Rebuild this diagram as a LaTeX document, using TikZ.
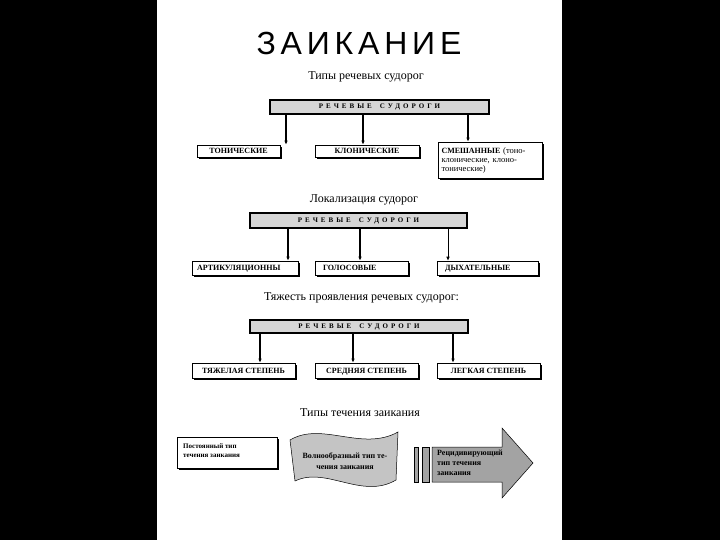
\documentclass[tikz,border=0pt]{standalone}
\usepackage{fontspec}
\setmainfont{Liberation Serif}
\newfontfamily\titlefont{Liberation Sans}[LetterSpace=15]
\newfontfamily\hdrfont{Liberation Serif}[LetterSpace=43]
\usetikzlibrary{positioning, arrows.meta, shadows}

\definecolor{hdrgray}{HTML}{D6D6D6}
\definecolor{wavegray}{HTML}{C4C4C4}
\definecolor{arrowgray}{HTML}{A3A3A3}

\begin{document}
\begin{tikzpicture}[
    x=1pt, y=-1pt,
    heading/.style={
        font=\fontsize{12}{14}\selectfont
    },
    hdr/.style={
        draw,
        line width=1.4pt,
        fill=hdrgray,
        inner sep=0pt,
        font=\hdrfont\bfseries\fontsize{7}{8}\selectfont
    },
    boxshadow/.style={
        drop shadow={shadow xshift=1.6pt, shadow yshift=-1.6pt, fill=black, opacity=1}
    },
    kind/.style={
        draw,
        fill=white,
        line width=0.6pt,
        inner sep=2pt,
        text height=5.8pt,
        text depth=0.6pt,
        boxshadow,
        font=\bfseries\fontsize{8}{9}\selectfont
    },
    leftkind/.style={
        kind,
        align=left,
        inner xsep=8pt,
        text width=#1
    },
    link/.style={-{Latex[length=4pt, width=3.5pt]}, line width=1.2pt},
    thinlink/.style={-{Latex[length=4pt, width=3.5pt]}, line width=0.6pt},
    flowtext/.style={
        align=left,
        inner sep=0pt,
        font=\bfseries\fontsize{7}{9}\selectfont
    }
]

% page
\useasboundingbox (0,0) rectangle (720,540);
\fill[black] (0,0) rectangle (720,540);
\fill[white] (157,0) rectangle (562,540);

\node[font=\titlefont\fontsize{32}{36}\selectfont] (title) at (359,43) {ЗАИКАНИЕ};

% types of speech convulsions
\node[heading] (t1) at (366,77) {Типы речевых судорог};
\node[hdr, minimum width=219pt, minimum height=14pt] (h1) at (379.5,107) {РЕЧЕВЫЕ\hspace{8pt}СУДОРОГИ};
\node[kind, minimum width=83pt, minimum height=12pt] (c11) at (238.5,151) {ТОНИЧЕСКИЕ};
\node[kind, minimum width=104pt, minimum height=12pt] (c12) at (367,151) {КЛОНИЧЕСКИЕ};
\node[kind, text height=, text depth=, minimum width=104pt, minimum height=36pt, text width=97pt,
      align=left, inner xsep=3.5pt, font=\fontsize{8.5}{9}\selectfont] (c13) at (490,160)
    {\textbf{\fontsize{8}{9}\selectfont СМЕШАННЫЕ} (тоно-\\клонические, клоно-\\тонические)};

\draw[link] (h1.south -| 286,0) -- (c11.north -| 286,0);
\draw[link] (h1.south -| 363,0) -- (c12.north -| 363,0);
\draw[link] (h1.south -| 468,0) -- (c13.north -| 468,0);

% localisation
\node[heading] (t2) at (364,200) {Локализация судорог};
\node[hdr, minimum width=217pt, minimum height=15pt] (h2) at (358.5,220.5) {РЕЧЕВЫЕ\hspace{8pt}СУДОРОГИ};
\node[leftkind=96pt, inner xsep=5pt, minimum height=14pt] (c21) at (245,268) {АРТИКУЛЯЦИОННЫ};
\node[leftkind=77pt, minimum height=14pt] (c22) at (361.5,268) {ГОЛОСОВЫЕ};
\node[leftkind=85pt, minimum height=14pt] (c23) at (487.5,268) {ДЫХАТЕЛЬНЫЕ};

\draw[link] (h2.south -| 288,0) -- (c21.north -| 288,0);
\draw[link] (h2.south -| 360,0) -- (c22.north -| 360,0);
\draw[thinlink] (h2.south -| 448,0) -- (c23.north -| 448,0);

% severity
\node[heading] (t3) at (361.5,298) {Тяжесть проявления речевых судорог:};
\node[hdr, minimum width=218pt, minimum height=13pt] (h3) at (359,326.5) {РЕЧЕВЫЕ\hspace{8pt}СУДОРОГИ};
\node[kind, minimum width=103pt, minimum height=15pt] (c31) at (243.5,370.5) {ТЯЖЕЛАЯ СТЕПЕНЬ};
\node[kind, minimum width=103pt, minimum height=15pt] (c32) at (366.5,370.5) {СРЕДНЯЯ СТЕПЕНЬ};
\node[kind, minimum width=103pt, minimum height=15pt] (c33) at (488.5,370.5) {ЛЕГКАЯ СТЕПЕНЬ};

\draw[link] (h3.south -| 260,0) -- (c31.north -| 260,0);
\draw[link] (h3.south -| 353,0) -- (c32.north -| 353,0);
\draw[link] (h3.south -| 453,0) -- (c33.north -| 453,0);

% course of stuttering
\node[heading] (t4) at (360,413) {Типы течения заикания};
\draw[line width=0.6pt, fill=white, boxshadow] (177,437) rectangle (277,468);
\node[flowtext, anchor=north west] (steady) at (183,443) {Постоянный тип\\течения заикания};

\draw[line width=0.5pt, fill=wavegray]
    (290,440) .. controls (322,421) and (362,452) .. (398,432)
    -- (396,480) .. controls (362,500) and (326,466) .. (295,481) -- cycle;
\node[flowtext, align=center, font=\bfseries\fontsize{8}{11}\selectfont] (wave) at (345,461) {Волнообразный тип те-\\чения заикания};

\draw[line width=0.5pt, fill=arrowgray] (414,447) rectangle (418,482);
\draw[line width=0.5pt, fill=arrowgray] (422,447) rectangle (429,482);
\draw[line width=0.5pt, fill=arrowgray]
    (432,447) -- (502,447) -- (502,428) -- (533,463) -- (502,498) -- (502,482) -- (432,482) -- cycle;
\node[flowtext, anchor=north west, font=\bfseries\fontsize{8}{10}\selectfont] (relapse) at (437,450) {Рецидивирующий\\тип течения\\заикания};

\end{tikzpicture}
\end{document}
